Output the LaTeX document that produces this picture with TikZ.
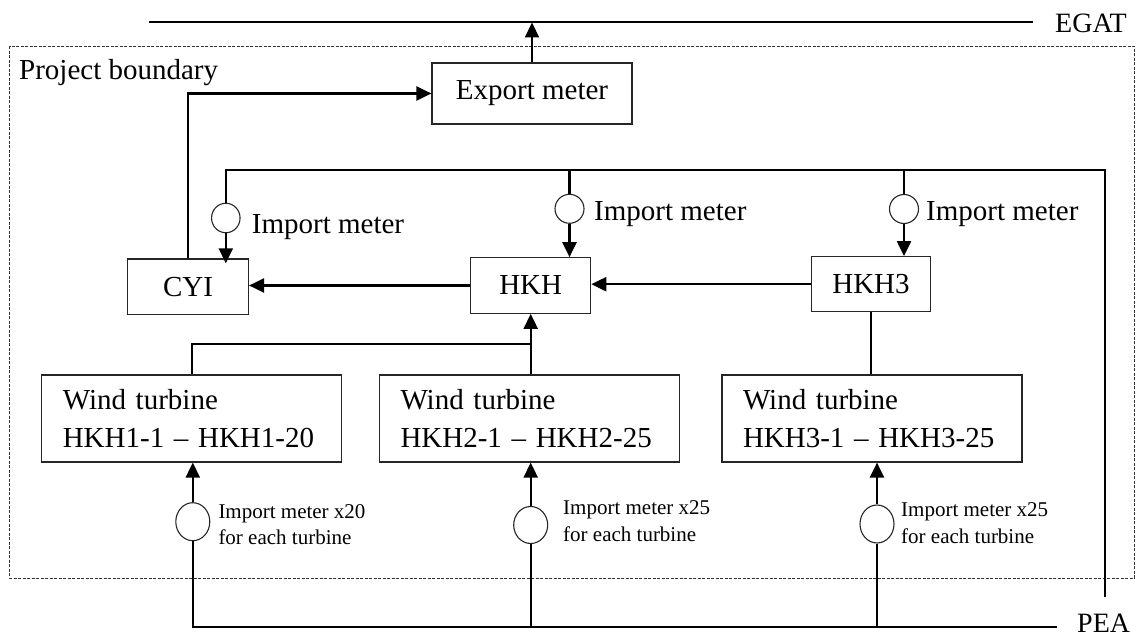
\documentclass[tikz,border=0pt]{standalone}
\usepackage{fontspec}
\setmainfont{Liberation Serif}
\usetikzlibrary{arrows.meta,shapes.geometric}
\begin{document}
\begin{tikzpicture}[x=1pt,y=-1pt,
  box/.style={draw=black!85,line width=1.2pt,inner sep=0pt,font=\fontsize{29}{35}\selectfont},
  wt/.style={box,text width=258pt,align=left,inner xsep=21pt,inner ysep=0pt,minimum height=87pt,font=\fontsize{29}{38}\selectfont},
  conn/.style={line width=2.2pt},
  arr/.style={line width=2.2pt,-{Triangle[length=15pt,width=14pt]}},
  meter/.style={draw=black!85,line width=1.1pt,ellipse,fill=white,inner sep=0pt},
  lbl/.style={inner sep=0pt,font=\fontsize{29}{35}\selectfont},
  small/.style={inner sep=0pt,align=left,font=\fontsize{21}{26.5}\selectfont},
  bound/.style={line width=0.9pt,black!80,dash pattern=on 3pt off 1.5pt}]
\useasboundingbox (0,0) rectangle (1136,636);

% project boundary
\draw[bound] (9.6,46.5) rectangle (1134.5,578);
\node[lbl,anchor=base west] (PB) at (19,80) {Project boundary};

% grid lines
\coordinate (egL) at (149,22.5);
\coordinate (egR) at (1033,22.5);
\coordinate (busR) at (1105,170);
\coordinate (peaT) at (1105,597);
\coordinate (peaL) at (1057,627);
\draw[line width=2pt] (egL) -- (egR);
\node[lbl,anchor=base west,font=\fontsize{28}{34}\selectfont] (EGAT) at (1055,33) {EGAT};
\node[lbl,anchor=base west,font=\fontsize{28}{34}\selectfont] (PEA) at (1077,632) {PEA};

% boxes
\node[box,minimum width=200pt,minimum height=61pt] (Exp) at (532,93.5) {Export meter};
\node[box,minimum width=121pt,minimum height=55.5pt] (CYI) at (188,286.7) {CYI};
\node[box,minimum width=120pt,minimum height=55.5pt] (HKH) at (530.7,285.5) {HKH};
\node[box,minimum width=119.5pt,minimum height=55pt] (HKH3) at (871,284.2) {HKH3};
\node[wt] (WT1) at (191.8,418.5) {Wind turbine\\HKH1-1 – HKH1-20};
\node[wt] (WT2) at (529.5,418.5) {Wind turbine\\HKH2-1 – HKH2-25};
\node[wt] (WT3) at (872,418.5) {Wind turbine\\HKH3-1 – HKH3-25};

% meters
\node[meter,minimum width=28.5pt,minimum height=29.5pt] (mC) at (225.8,218) {};
\node[meter,minimum width=29pt,minimum height=29pt] (mH) at (569.5,208.8) {};
\node[meter,minimum width=29pt,minimum height=29pt] (mH3) at (904,209) {};
\node[meter,minimum width=34pt,minimum height=38pt] (m1) at (192.8,521.7) {};
\node[meter,minimum width=34pt,minimum height=37pt] (m2) at (530.7,525) {};
\node[meter,minimum width=34pt,minimum height=38pt] (m3) at (877,524) {};

% labels
\node[lbl,anchor=base west] (tC) at (251.7,234) {Import meter};
\node[lbl,anchor=base west] (tH) at (594,221) {Import meter};
\node[lbl,anchor=base west] (tH3) at (926,221) {Import meter};
\node[small,anchor=west] (s1) at (218.3,524.4) {Import meter x20\\for each turbine};
\node[small,anchor=west] (s2) at (563,521) {Import meter x25\\for each turbine};
\node[small,anchor=west] (s3) at (901,523) {Import meter x25\\for each turbine};

% import bus (top)
\draw[conn] (mC.north) |- (busR) -- (peaT);
\draw[conn] (mH.north) -- (mH.north |- busR);
\draw[conn] (mH3.north) -- (mH3.north |- busR);
\draw[arr,shorten >=-5pt] (mC.south) -- (mC.south |- CYI.north);
\draw[arr] (mH.south) -- (mH.south |- HKH.north);
\draw[arr] (mH3.south) -- (mH3.south |- HKH3.north);

% substations
\draw[arr] (HKH.west) -- (CYI.east |- HKH.west);
\draw[arr] (HKH3.west) -- (HKH.east |- HKH3.west);
\draw[arr] (CYI.north) |- (Exp.west);
\draw[arr] (Exp.north) -- (Exp.north |- egR);

% turbines up
\coordinate (j) at (530.7,344);
\draw[conn] (WT1.north) |- (j);
\draw[arr] (WT2.north -| HKH.south) -- (HKH.south);
\draw[conn] (HKH3.south) -- (HKH3.south |- WT3.north);

% PEA bus (bottom)
\draw[conn] (m1.south) |- (peaL);
\draw[conn] (m2.south) -- (m2.south |- peaL);
\draw[conn] (m3.south) -- (m3.south |- peaL);
\draw[arr] (m1.north) -- (m1.north |- WT1.south);
\draw[arr] (m2.north) -- (m2.north |- WT2.south);
\draw[arr] (m3.north) -- (m3.north |- WT3.south);
\end{tikzpicture}
\end{document}
